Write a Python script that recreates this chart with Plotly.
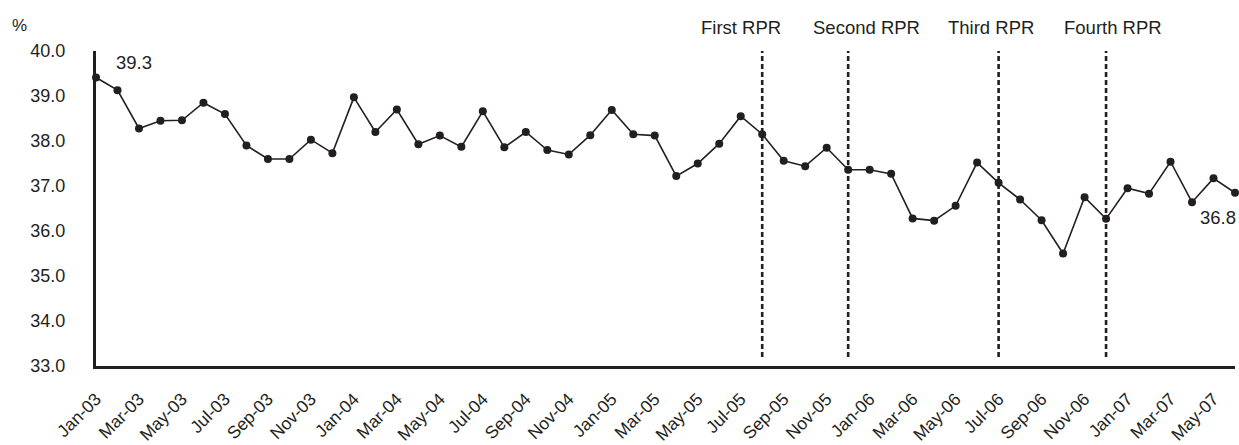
import plotly.graph_objects as go

months = ["Jan", "Feb", "Mar", "Apr", "May", "Jun", "Jul", "Aug", "Sep", "Oct", "Nov", "Dec"]
dates = [f"{m}-{y:02d}" for y in range(3, 8) for m in months][:54]

values = [39.41, 39.13, 38.28, 38.45, 38.46, 38.85, 38.60, 37.90, 37.60, 37.60,
          38.03, 37.73, 38.97, 38.20, 38.70, 37.93, 38.12, 37.87, 38.66, 37.86,
          38.20, 37.80, 37.70, 38.13, 38.69, 38.15, 38.12, 37.22, 37.50, 37.94,
          38.55, 38.15, 37.56, 37.44, 37.85, 37.36, 37.36, 37.27, 36.28, 36.23,
          36.56, 37.52, 37.07, 36.70, 36.24, 35.50, 36.75, 36.27, 36.95, 36.83,
          37.54, 36.64, 37.17, 36.85]

tick_labels = dates[0::2]
y_ticks = [33, 34, 35, 36, 37, 38, 39, 40]

rpr_labels = ["First RPR", "Second RPR", "Third RPR", "Fourth RPR"]
rpr_months = ["Aug-05", "Dec-05", "Jul-06", "Dec-06"]
rpr_label_offsets = [-1.0, 0.85, -0.35, 0.3]

first_label = "39.3"
last_label = "36.8"

DARK = "#231f20"
FONT = "Liberation Sans, Arial, sans-serif"

x = list(range(len(values)))
fig = go.Figure()
fig.add_trace(go.Scatter(
    x=x, y=values, mode="lines+markers",
    line=dict(color=DARK, width=1.6),
    marker=dict(color=DARK, size=8),
    showlegend=False, hoverinfo="skip", cliponaxis=False,
))

for lab, mon, off in zip(rpr_labels, rpr_months, rpr_label_offsets):
    xi = dates.index(mon)
    fig.add_shape(type="line", x0=xi, x1=xi, y0=33.2, y1=40.05, xref="x", yref="y",
                  line=dict(color=DARK, width=2.6, dash="5px,3px"))
    fig.add_annotation(x=xi + off, y=1.0, xref="x", yref="paper", yshift=24,
                       text=lab, showarrow=False, yanchor="middle",
                       font=dict(size=18.5, color=DARK, family=FONT))

fig.add_annotation(x=0, y=values[0], xref="x", yref="y", text=first_label,
                   showarrow=False, xshift=38, yshift=15,
                   font=dict(size=18.5, color=DARK, family=FONT))
fig.add_annotation(x=len(values) - 1, y=values[-1], xref="x", yref="y", text=last_label,
                   showarrow=False, xanchor="right", xshift=3, yshift=-25,
                   font=dict(size=18.5, color=DARK, family=FONT))
fig.add_annotation(x=-0.0755, y=1.0, xref="paper", yref="paper", xanchor="left",
                   yanchor="middle", yshift=26, text="%", showarrow=False,
                   font=dict(size=17, color=DARK, family=FONT))

fig.update_layout(
    width=1239, height=445,
    margin=dict(l=96, r=4, t=51, b=79, autoexpand=False),
    plot_bgcolor="white", paper_bgcolor="white",
    font=dict(family=FONT, color=DARK),
    xaxis=dict(range=[0, len(values) - 1], tickvals=x[0::2], ticktext=tick_labels,
               tickangle=-45, showgrid=False, zeroline=False, showline=True,
               linecolor=DARK, linewidth=3, ticks="", ticklabelstandoff=13,
               automargin=False,
               tickfont=dict(size=17.5, color=DARK, family=FONT)),
    yaxis=dict(range=[33, 40], tickvals=y_ticks, ticktext=[f"{v:.1f}" for v in y_ticks],
               showgrid=False, zeroline=False, showline=True, linecolor=DARK,
               linewidth=3, ticks="", ticklabelstandoff=24, automargin=False,
               tickfont=dict(size=18, color=DARK, family=FONT)),
)

fig.write_html("out.html", config={"displayModeBar": False},
               post_script="document.body.style.margin='0px';document.body.style.padding='0px';")
